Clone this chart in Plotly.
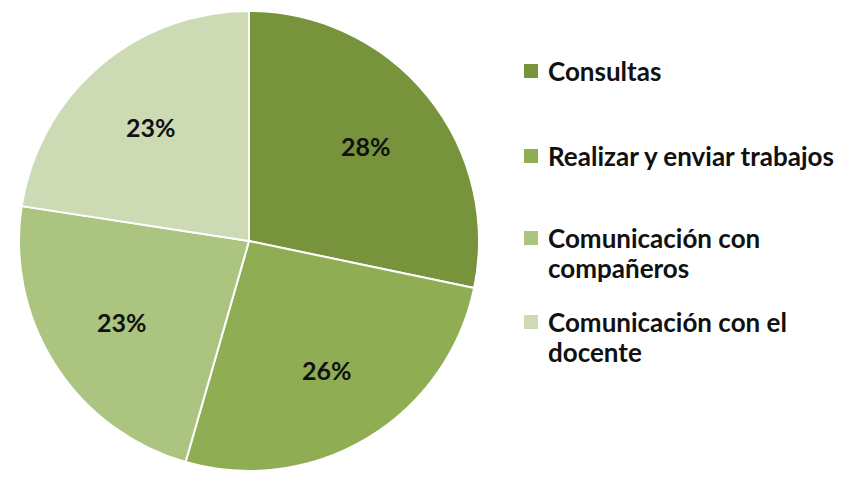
import math
import plotly.graph_objects as go

labels = ["Consultas", "Realizar y enviar trabajos", "Comunicación con compañeros", "Comunicación con el docente"]
legend_lines = [["Consultas"], ["Realizar y enviar trabajos"], ["Comunicación con", "compañeros"], ["Comunicación con el", "docente"]]
values = [28.3, 26.2, 23.0, 22.6]
colors = ["#77933C", "#8FAD52", "#ABC47F", "#CCDBB4"]

W, H = 842, 477
OFF = 8  # page body margin offset
FONT = "Lato, 'Open Sans', sans-serif"

def px(x):
    return (x - OFF) / W

def py(y):
    return 1 - (y - OFF) / H

# pie geometry (page pixels)
CX, CY, R = 249, 241, 230

fig = go.Figure(go.Pie(
    labels=labels, values=values, sort=False, direction="clockwise", rotation=0,
    marker=dict(colors=colors, line=dict(color="white", width=2)),
    textinfo="none",
    domain=dict(x=[px(CX - R), px(CX + R)], y=[py(CY + R), py(CY - R)]),
    showlegend=False, hoverinfo="label+percent",
))

shapes, annotations = [], []

# percentage labels placed along each slice's mid-angle (Excel-style)
total = sum(values)
cum = 0.0
for v in values:
    mid = (cum + v / 2) / total * 2 * math.pi
    cum += v
    lx = CX + 0.655 * R * math.sin(mid)
    ly = CY - 0.655 * R * math.cos(mid)
    annotations.append(dict(text=f"{round(v / total * 100)}%", xref="paper", yref="paper",
                            x=px(lx), y=py(ly), xanchor="center", yanchor="middle",
                            showarrow=False,
                            font=dict(family=FONT, size=25, color="#111111", weight="bold")))

# manual legend
legend_y = [71, 156, 238, 322]
line_h = 30
for i, lines in enumerate(legend_lines):
    y0 = legend_y[i]
    shapes.append(dict(type="rect", xref="paper", yref="paper",
                       x0=px(524), x1=px(538), y0=py(y0 + 7), y1=py(y0 - 7),
                       fillcolor=colors[i], line=dict(width=0)))
    for j, t in enumerate(lines):
        annotations.append(dict(text=t, xref="paper", yref="paper", x=px(546),
                                y=py(y0 + j * line_h), xanchor="left", yanchor="middle",
                                showarrow=False,
                                font=dict(family=FONT, size=26, color="#111111", weight="bold")))

fig.update_layout(width=W, height=H, margin=dict(l=0, r=0, t=0, b=0),
                  paper_bgcolor="white", plot_bgcolor="white",
                  shapes=shapes, annotations=annotations)
fig.write_html("out.html")
